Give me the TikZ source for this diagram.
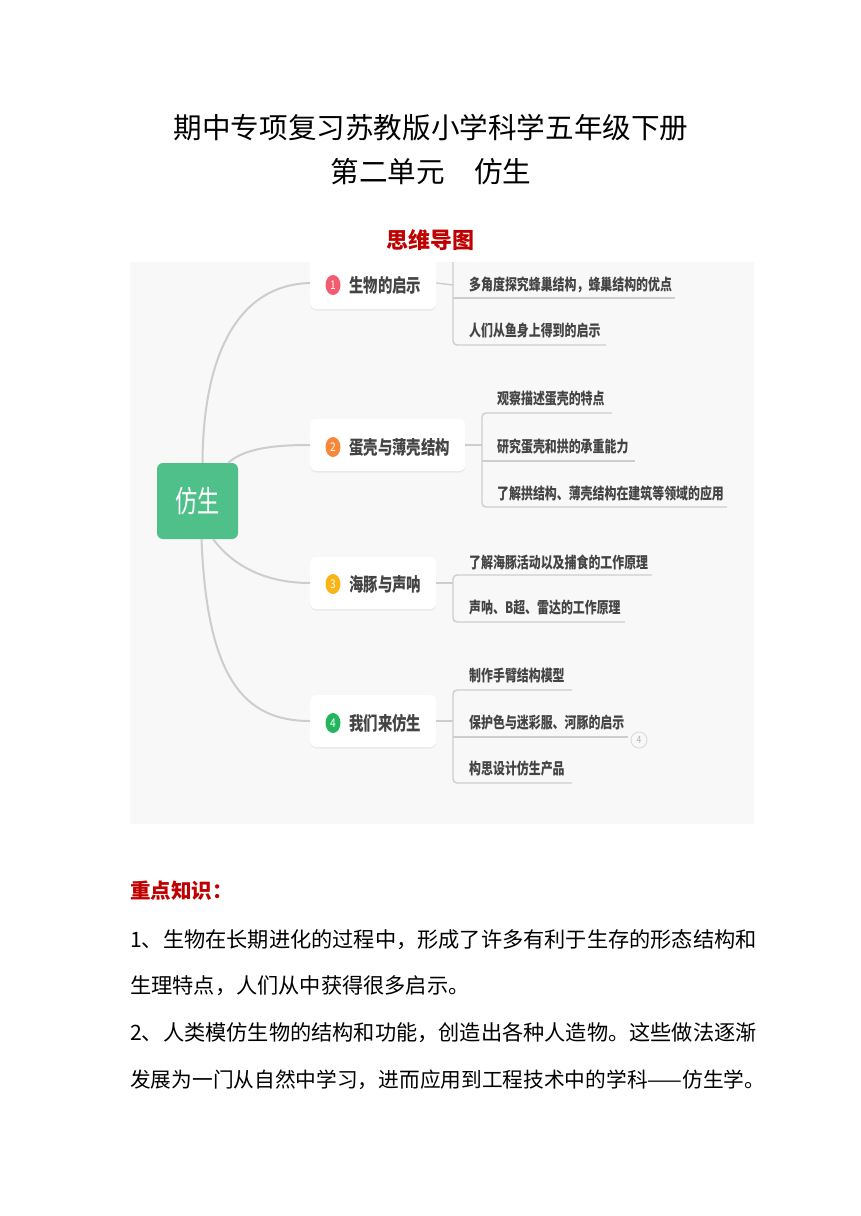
\documentclass[tikz,border=0pt]{standalone}
\usepackage{fontspec}
\setmainfont{Noto Sans CJK SC}
\newfontfamily\mapfont[FakeStretch=0.85]{Noto Sans CJK SC}
\newfontfamily\subfont[FakeStretch=0.76]{Noto Sans CJK SC}
\newfontfamily\brfont[FakeStretch=0.77]{Noto Sans CJK SC}
\newfontfamily\ctrfont[FakeStretch=0.74]{Noto Sans CJK SC}
\usetikzlibrary{shapes.geometric,shadows,calc}
\definecolor{bgc}{HTML}{F8F8F8}
\definecolor{ctrg}{HTML}{50C08A}
\definecolor{txtc}{HTML}{444444}
\definecolor{linec}{HTML}{CDCDCD}
\definecolor{redc}{HTML}{C00000}
\definecolor{n1c}{HTML}{F25C6E}
\definecolor{n2c}{HTML}{F7883A}
\definecolor{n3c}{HTML}{FBB315}
\definecolor{n4c}{HTML}{22B55E}
\tikzset{
  branch/.style={fill=white, rounded corners=6pt, drop shadow={opacity=0.12, shadow xshift=0pt, shadow yshift=-1.5pt}, minimum height=52pt, inner sep=0pt, anchor=west},
  numb/.style={ellipse, minimum width=15pt, minimum height=20pt, inner sep=0pt, text=white, font=\mapfont\fontsize{12}{12}\selectfont},
  btext/.style={anchor=west, inner sep=0pt, text=txtc, font=\brfont\bfseries\fontsize{18.7}{18.7}\selectfont},
  stext/.style={anchor=west, inner sep=0pt, text=txtc, font=\subfont\bfseries\fontsize{15.7}{15.7}\selectfont},
  curve/.style={draw=linec, line width=2pt},
  sub/.style={draw=linec, line width=1.4pt, rounded corners=4pt},
  body/.style={anchor=west, inner sep=0pt, font=\fontsize{21.2}{21.2}\selectfont}
}
\begin{document}
\begin{tikzpicture}[x=1pt,y=-1pt]
\useasboundingbox[fill=white] (0,0) rectangle (860,1216);
% titles
\node[inner sep=0pt, font=\fontsize{28.6}{28.6}\selectfont] (t1) at (431,128) {期中专项复习苏教版小学科学五年级下册};
\node[inner sep=0pt, font=\fontsize{28.6}{28.6}\selectfont] (t2) at (431,172) {第二单元\hspace{29pt}仿生};
\node[inner sep=0pt, text=redc, font=\bfseries\fontsize{22}{22}\selectfont] (t3) at (430,240) {思维导图};
% mind map
\fill[bgc] (130,262) rectangle (754,824);
\begin{scope}
\clip (130,262) rectangle (754,824);
\node[fill=ctrg, rounded corners=6pt, minimum width=81pt, minimum height=76pt, inner sep=0pt, text=white, font=\ctrfont\fontsize{30}{30}\selectfont] (c) at (197.5,501) {仿生};
\node[branch, minimum width=126pt] (b1) at (310,283) {};
\node[branch, minimum width=155pt] (b2) at (310,445) {};
\node[branch, minimum width=126pt] (b3) at (310,583) {};
\node[branch, minimum width=126pt] (b4) at (310,721) {};
\node[numb, fill=n1c] (k1) at (333,285) {1};
\node[numb, fill=n2c] (k2) at (333,447) {2};
\node[numb, fill=n3c] (k3) at (333,584) {3};
\node[numb, fill=n4c] (k4) at (333,723) {4};
\node[btext] (l1) at (349,285) {生物的启示};
\node[btext] (l2) at (349,447) {蛋壳与薄壳结构};
\node[btext] (l3) at (349,584) {海豚与声呐};
\node[btext] (l4) at (349,723) {我们来仿生};
% curves from centre
\draw[curve] ($(c.north)+(5,0)$) .. controls (203,360) and (235,285) .. (b1.west);
\draw[curve] ($(c.north east)+(-10,0)$) .. controls (245,448) and (275,445) .. (b2.west);
\draw[curve] ($(c.south east)+(-25,0)$) .. controls (240,575) and (280,583) .. (b3.west);
\draw[curve] ($(c.south)+(4,0)$) .. controls (207,680) and (245,721) .. (b4.west);
% branch 1 subs
\coordinate (s1) at (453,285);
\draw[sub] (b1.east) -- (s1);
\draw[sub] (453,255) -- (453,345) -- (606,345);
\draw[sub] (453,298) -- (675,298);
\node[stext] (a11) at (469,285) {多角度探究蜂巢结构，蜂巢结构的优点};
\node[stext] (a12) at (469,331) {人们从鱼身上得到的启示};
% branch 2 subs
\coordinate (s2) at (482,445);
\draw[sub] (b2.east) -- (s2);
\draw[sub] (612,413) -- (482,413) -- (482,507) -- (727,507);
\draw[sub] (482,461) -- (635,461);
\node[stext] (a21) at (497,399) {观察描述蛋壳的特点};
\node[stext] (a22) at (497,447) {研究蛋壳和拱的承重能力};
\node[stext] (a23) at (497,493) {了解拱结构、薄壳结构在建筑等领域的应用};
% branch 3 subs
\coordinate (s3) at (453,583);
\draw[sub] (b3.east) -- (s3);
\draw[sub] (652,575) -- (453,575) -- (453,622) -- (625,622);
\node[stext] (a31) at (469,562) {了解海豚活动以及捕食的工作原理};
\node[stext] (a32) at (469,608) {声呐、B超、雷达的工作原理};
% branch 4 subs
\coordinate (s4) at (453,721);
\draw[sub] (b4.east) -- (s4);
\draw[sub] (572,690) -- (453,690) -- (453,783) -- (572,783);
\draw[sub] (453,737) -- (628,737);
\node[stext] (a41) at (469,676) {制作手臂结构模型};
\node[stext] (a42) at (469,723) {保护色与迷彩服、河豚的启示};
\node[stext] (a43) at (469,769) {构思设计仿生产品};
\node[circle, draw=linec!80, line width=0.8pt, fill=bgc, minimum size=16pt, inner sep=0pt, text=gray!60, font=\mapfont\fontsize{10}{10}\selectfont] (cnt) at (639,740) {4};
\end{scope}
% key points
\node[anchor=west, inner sep=0pt, text=redc, font=\bfseries\fontsize{20.5}{20.5}\selectfont] (h) at (130,891) {重点知识：};
\node[body] (p1) at (130,940) {1、生物在长期进化的过程中，形成了许多有利于生存的形态结构和};
\node[body] (p2) at (130,986) {生理特点，人们从中获得很多启示。};
\node[body] (p3) at (130,1033) {2、人类模仿生物的结构和功能，创造出各种人造物。这些做法逐渐};
\node[body, font=\fontsize{20.7}{20.7}\selectfont] (p4) at (130,1080) {发展为一门从自然中学习，进而应用到工程技术中的学科——仿生学。};
\end{tikzpicture}
\end{document}
